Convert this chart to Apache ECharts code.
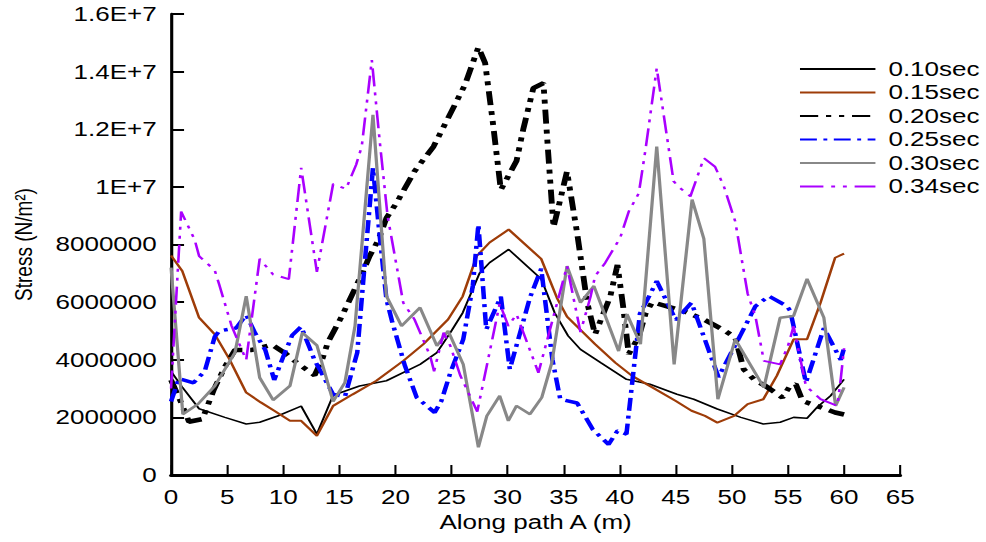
<!DOCTYPE html>
<html>
<head>
<meta charset="utf-8">
<script src="https://cdn.jsdelivr.net/npm/echarts@6/dist/echarts.min.js"></script>
<style>
html,body{margin:0;padding:0;background:#fff;overflow:hidden;}
#wrap{width:986px;height:542px;overflow:hidden;position:relative;}
#chart{width:758px;height:542px;transform:scaleX(1.3007916);transform-origin:0 0;position:absolute;left:0;top:0;}
</style>
</head>
<body>
<div id="wrap"><div id="chart"></div></div>
<script>
// Stress values in units of 1,000,000 N/m^2 ; x in m
const seriesNames = ['0.10sec','0.15sec','0.20sec','0.25sec','0.30sec','0.34sec'];
const yTickLabels = ['0','2000000','4000000','6000000','8000000','1E+7','1.2E+7','1.4E+7','1.6E+7'];
const xTickLabels = ['0','5','10','15','20','25','30','35','40','45','50','55','60','65'];

const x010 = [0,1,2.5,4.8,6.7,7.9,9.5,11.6,13,14.45,16.8,19.2,22.2,23.7,24.9,26,27.5,28.4,30.1,33,34.2,35.4,36.5,38.3,40.6,42.7,45.1,46.6,48.7,50.8,52.8,54.3,55.5,56.7,57.6,58.8,60];
const y010 = [3.6,3.05,2.3,2.0,1.77,1.83,2.05,2.39,1.42,2.77,3.09,3.27,3.84,4.25,4.94,5.63,7.0,7.37,7.83,6.8,5.63,4.83,4.36,3.9,3.32,3.15,2.8,2.63,2.29,2.0,1.77,1.83,2.0,1.97,2.35,2.75,3.32];

const x015 = [0,1,2.5,3.9,5.2,6.7,8,9.2,10.6,11.6,13,14.45,16.2,18.3,20.7,22.5,24.7,26,27.25,28.4,30.1,33,34.4,35.3,37.8,39.6,41.1,42.9,45,46.4,47.6,48.7,50.2,51.4,52.8,54,55.5,56.7,57.9,59.2,60];
const y015 = [7.62,7.08,5.46,4.88,4.02,2.86,2.52,2.23,1.88,1.88,1.36,2.4,2.8,3.27,3.96,4.54,5.4,6.2,7.6,8.07,8.52,7.5,6.15,5.5,4.54,3.9,3.44,3.04,2.57,2.23,2.05,1.82,2.05,2.46,2.63,3.44,4.71,4.71,5.98,7.54,7.68];

const x020 = [0,0.8,1.6,2.8,3.8,4.8,5.7,7.2,9,10.2,11.3,12.8,13.5,14,15.2,16.4,17.1,17.7,18.5,19.2,20.1,21.7,23.4,24.7,26.2,27.4,28,28.7,29.4,30.8,31.4,32.3,33.2,33.6,34.1,34.7,35.3,36.2,37.1,37.8,39.15,39.8,40.3,40.8,41.7,42.3,42.9,45.8,47.6,49.4,50.3,51.05,52.1,53,54.5,55.1,55.7,56.3,59.2,60];
const y020 = [3.3,2.6,1.85,1.94,2.95,3.76,4.34,4.34,4.52,4.22,3.87,3.46,4.04,4.62,5.49,6.47,7.05,7.6,8.17,8.92,9.44,10.54,11.4,12.39,13.54,14.85,14.3,12.2,9.9,10.9,12.0,13.43,13.6,11.3,8.6,9.56,10.54,8.4,5.98,4.88,6.19,7.29,5.86,4.2,4.8,5.6,6.0,5.67,5.38,5.0,4.77,3.67,3.27,3.09,2.69,3.04,3.15,2.57,2.17,2.1];

const x025 = [0,0.7,2.0,3.0,3.9,4.3,5.8,6.7,7.5,8.4,9.2,10.1,10.8,11.6,12.8,14.45,15.5,16.6,17.3,18.0,18.6,19.2,19.7,20.85,21.9,23.5,24.1,24.9,26.05,26.9,27.4,28.1,29.4,30.2,32,33,34.0,34.7,36.2,37.6,39.0,39.8,40.6,41.8,42.6,43.3,45,46.4,48.8,50.8,52.1,53.3,54.9,55.2,56.6,58.2,59.7,60];
const y025 = [2.55,3.35,3.2,3.6,4.8,5.0,5.1,5.56,4.92,4.34,3.3,4.2,4.85,5.15,3.98,2.8,2.72,4.25,7.5,10.66,8.3,6.1,5.34,3.79,2.69,2.17,2.57,3.55,4.71,6.56,8.69,5.05,6.19,3.67,6.16,7.16,4.0,2.63,2.5,1.58,1.06,1.53,1.42,5.6,6.19,6.73,5.38,5.98,3.4,4.88,5.86,6.21,5.86,5.7,3.21,5.1,4.0,4.4];

const x030 = [0,1.05,2.4,3.9,5.7,6.7,7.9,9.1,10.6,11.7,13,14.45,15.5,16.4,18,19.2,20.55,22.2,23.7,24.7,26.05,27.4,28.15,29.3,30.07,30.8,32,33.05,33.95,35.3,36.5,37.7,39.9,40.65,41.85,43.3,44.85,46.45,47.5,48.75,50.3,52.85,54.3,55.5,56.7,58.2,59.25,60];
const y030 = [7.2,2.11,2.46,3.09,4.25,6.21,3.38,2.6,3.09,4.94,4.5,2.55,3.21,5.17,12.5,6.21,5.17,5.81,4.48,5.0,3.84,0.96,2.05,2.75,1.88,2.4,2.11,2.69,3.9,7.25,5.98,6.56,4.3,5.58,4.54,11.4,3.84,9.56,8.2,2.63,4.71,3.04,5.46,5.52,6.81,5.46,2.4,3.04];

const x034 = [0,0.9,2.1,2.5,3.9,4.3,5.4,6.7,7.9,9.1,10.5,11.6,13,14.45,15.6,16.5,17.0,17.9,18.6,19.3,20.7,21.7,23.1,23.45,24.3,24.9,25.8,27.3,29.3,30.07,30.8,32.75,35.3,36.5,37.4,37.8,38.7,39.45,40.04,40.8,41.7,42.3,43.3,44.8,45.25,46.3,47.5,48.5,49.3,50.3,51.4,52.1,52.85,54.3,55.0,55.5,56.6,57.9,59.4,59.7,60];
const y034 = [3.0,9.14,8.17,7.6,7.1,6.6,5.17,3.99,7.5,6.96,6.8,10.66,7.05,10.1,9.93,10.77,11.4,14.4,11.6,9.0,5.98,5.4,4.13,3.6,4.94,4.48,3.44,2.2,5.95,5.17,5.58,3.55,7.25,4.96,6.19,6.9,7.36,7.85,8.23,9.14,9.78,11.3,14.12,10.2,10.0,9.67,11.0,10.7,10.0,8.8,6.3,5.5,3.96,3.84,4.48,5.16,3.09,2.63,2.4,3.32,4.4];

const xsAll = [x010,x015,x020,x025,x030,x034];
const ysAll = [y010,y015,y020,y025,y030,y034];

const styles = [
  {color:'#000000', width:1.6, type:'solid'},
  {color:'#9e3c08', width:2, type:'solid'},
  {color:'#000000', width:4.5, type:[14,6,4,6,4,6]},
  {color:'#0000ff', width:3.5, type:[13,5,3,5]},
  {color:'#888888', width:2.5, type:'solid'},
  {color:'#aa00ff', width:2, type:[18,6,3,6,3,6]}
];

const FONT = 'Liberation Sans, Arial, sans-serif';
const chart = echarts.init(document.getElementById('chart'), null, {renderer:'svg', width:758, height:542});
const series = seriesNames.map((n,i)=>({
  name:n, type:'line', symbol:'none', showSymbol:false, smooth:false,
  data: xsAll[i].map((x,j)=>[x, ysAll[i][j]]),
  lineStyle:{color:styles[i].color, width:styles[i].width, type:styles[i].type},
  itemStyle:{color:styles[i].color},
  emphasis:{disabled:true}
}));

chart.setOption({
  animation:false,
  backgroundColor:'#ffffff',
  grid:{left:131.5, right:66, top:14, bottom:67, containLabel:false},
  legend:{
    orient:'vertical', left:609, top:54,
    itemWidth:58, itemHeight:14, itemGap:3.5,
    data:seriesNames,
    itemStyle:{color:'rgba(0,0,0,0)', borderColor:'rgba(0,0,0,0)', borderWidth:0, opacity:0},
    textStyle:{fontFamily:FONT, fontSize:20, color:'#000', padding:[0,0,0,5]},
    selectedMode:false
  },
  xAxis:{
    type:'value', min:0, max:65, interval:5,
    name:'Along path A (m)', nameLocation:'middle', nameGap:37,
    nameTextStyle:{fontFamily:FONT, fontSize:20, color:'#000'},
    axisLine:{show:true, onZero:false, lineStyle:{color:'#000', width:3}},
    axisTick:{show:true, inside:true, length:10, lineStyle:{color:'#000', width:1.6}},
    axisLabel:{fontFamily:FONT, fontSize:20, color:'#000', margin:12,
      formatter:(v)=>xTickLabels[Math.round(v/5)]},
    splitLine:{show:false}
  },
  yAxis:{
    type:'value', min:0, max:16, interval:2,
    name:'Stress (N/m²)', nameLocation:'middle', nameGap:104,
    nameTextStyle:{fontFamily:FONT, fontSize:19, color:'#000'},
    axisLine:{show:true, onZero:false, lineStyle:{color:'#000', width:2.4}},
    axisTick:{show:true, inside:true, length:10, lineStyle:{color:'#000', width:2}},
    axisLabel:{fontFamily:FONT, fontSize:20, color:'#000', margin:11,
      formatter:(v)=>yTickLabels[Math.round(v/2)]},
    splitLine:{show:false}
  },
  series:series
});
</script>
</body>
</html>
